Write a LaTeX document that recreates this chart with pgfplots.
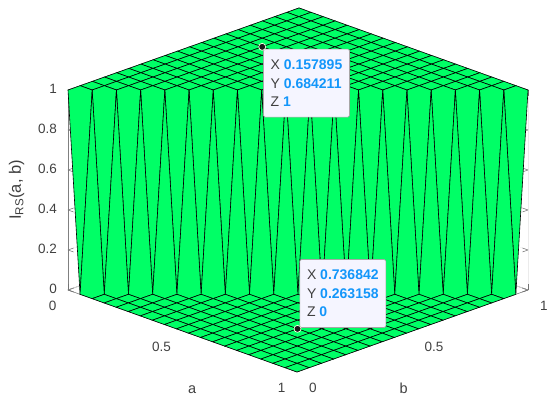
\documentclass[border=0pt]{standalone}
\usepackage{fontspec}
\setmainfont{Liberation Sans}
\usepackage{pgfplots}
\pgfplotsset{compat=1.18}
\definecolor{txt}{HTML}{404040}
\definecolor{tipblue}{HTML}{1296FA}
\definecolor{surfg}{RGB}{0,255,102}
\begin{document}
\begin{tikzpicture}[x=1pt,y=1pt]
\useasboundingbox (0,0) rectangle (550,403);
\begin{axis}[
  at={(68pt,113pt)}, anchor=origin,
  x={(229pt,-82pt)}, y={(231pt,82pt)}, z={(0pt,200pt)},
  xmin=0,xmax=1,ymin=0,ymax=1,zmin=0,zmax=1,
  clip=false,
  3d box=background,
  /pgf/number format/assume math mode=true,
  xtick={0,0.5,1}, ytick={0,0.5,1}, ztick={0,0.2,0.4,0.6,0.8,1},
  grid=major,
  grid style={line width=0.4pt,draw=black!8},
  axis line style={line width=0.6pt,draw=black!50},
  tick style={line width=0.5pt,draw=black!55},
  major tick length=6pt,
  tick label style={font=\fontsize{13.5}{15}\selectfont,text=txt},
  label style={font=\fontsize{14.5}{16}\selectfont,text=txt},
  xticklabel style={anchor=north east,xshift=-8pt,yshift=-7.5pt},
  yticklabel style={anchor=north west,xshift=8.5pt,yshift=-7.5pt},
  zticklabel style={xshift=-7.5pt,yshift=1.5pt},
  colormap={solidg}{color=(surfg) color=(surfg)},
  xlabel={a}, ylabel={b}, zlabel={I\textsubscript{RS}(a, b)},
  xlabel style={xshift=38pt,yshift=-19pt},
  ylabel style={xshift=-38pt,yshift=-16pt},
  zlabel style={font=\fontsize{16.5}{18}\selectfont,yshift=7pt},
]
\addplot3[surf,shader=faceted,faceted color=black,line width=0.6pt,mesh/rows=20,mesh/ordering=x varies] coordinates {
(0,0,1) (.0526,0,0) (.1053,0,0) (.1579,0,0) (.2105,0,0) (.2632,0,0) (.3158,0,0) (.3684,0,0) (.4211,0,0) (.4737,0,0) (.5263,0,0) (.5789,0,0) (.6316,0,0) (.6842,0,0) (.7368,0,0) (.7895,0,0) (.8421,0,0) (.8947,0,0) (.9474,0,0) (1,0,0)
(0,.0526,1) (.0526,.0526,1) (.1053,.0526,0) (.1579,.0526,0) (.2105,.0526,0) (.2632,.0526,0) (.3158,.0526,0) (.3684,.0526,0) (.4211,.0526,0) (.4737,.0526,0) (.5263,.0526,0) (.5789,.0526,0) (.6316,.0526,0) (.6842,.0526,0) (.7368,.0526,0) (.7895,.0526,0) (.8421,.0526,0) (.8947,.0526,0) (.9474,.0526,0) (1,.0526,0)
(0,.1053,1) (.0526,.1053,1) (.1053,.1053,1) (.1579,.1053,0) (.2105,.1053,0) (.2632,.1053,0) (.3158,.1053,0) (.3684,.1053,0) (.4211,.1053,0) (.4737,.1053,0) (.5263,.1053,0) (.5789,.1053,0) (.6316,.1053,0) (.6842,.1053,0) (.7368,.1053,0) (.7895,.1053,0) (.8421,.1053,0) (.8947,.1053,0) (.9474,.1053,0) (1,.1053,0)
(0,.1579,1) (.0526,.1579,1) (.1053,.1579,1) (.1579,.1579,1) (.2105,.1579,0) (.2632,.1579,0) (.3158,.1579,0) (.3684,.1579,0) (.4211,.1579,0) (.4737,.1579,0) (.5263,.1579,0) (.5789,.1579,0) (.6316,.1579,0) (.6842,.1579,0) (.7368,.1579,0) (.7895,.1579,0) (.8421,.1579,0) (.8947,.1579,0) (.9474,.1579,0) (1,.1579,0)
(0,.2105,1) (.0526,.2105,1) (.1053,.2105,1) (.1579,.2105,1) (.2105,.2105,1) (.2632,.2105,0) (.3158,.2105,0) (.3684,.2105,0) (.4211,.2105,0) (.4737,.2105,0) (.5263,.2105,0) (.5789,.2105,0) (.6316,.2105,0) (.6842,.2105,0) (.7368,.2105,0) (.7895,.2105,0) (.8421,.2105,0) (.8947,.2105,0) (.9474,.2105,0) (1,.2105,0)
(0,.2632,1) (.0526,.2632,1) (.1053,.2632,1) (.1579,.2632,1) (.2105,.2632,1) (.2632,.2632,1) (.3158,.2632,0) (.3684,.2632,0) (.4211,.2632,0) (.4737,.2632,0) (.5263,.2632,0) (.5789,.2632,0) (.6316,.2632,0) (.6842,.2632,0) (.7368,.2632,0) (.7895,.2632,0) (.8421,.2632,0) (.8947,.2632,0) (.9474,.2632,0) (1,.2632,0)
(0,.3158,1) (.0526,.3158,1) (.1053,.3158,1) (.1579,.3158,1) (.2105,.3158,1) (.2632,.3158,1) (.3158,.3158,1) (.3684,.3158,0) (.4211,.3158,0) (.4737,.3158,0) (.5263,.3158,0) (.5789,.3158,0) (.6316,.3158,0) (.6842,.3158,0) (.7368,.3158,0) (.7895,.3158,0) (.8421,.3158,0) (.8947,.3158,0) (.9474,.3158,0) (1,.3158,0)
(0,.3684,1) (.0526,.3684,1) (.1053,.3684,1) (.1579,.3684,1) (.2105,.3684,1) (.2632,.3684,1) (.3158,.3684,1) (.3684,.3684,1) (.4211,.3684,0) (.4737,.3684,0) (.5263,.3684,0) (.5789,.3684,0) (.6316,.3684,0) (.6842,.3684,0) (.7368,.3684,0) (.7895,.3684,0) (.8421,.3684,0) (.8947,.3684,0) (.9474,.3684,0) (1,.3684,0)
(0,.4211,1) (.0526,.4211,1) (.1053,.4211,1) (.1579,.4211,1) (.2105,.4211,1) (.2632,.4211,1) (.3158,.4211,1) (.3684,.4211,1) (.4211,.4211,1) (.4737,.4211,0) (.5263,.4211,0) (.5789,.4211,0) (.6316,.4211,0) (.6842,.4211,0) (.7368,.4211,0) (.7895,.4211,0) (.8421,.4211,0) (.8947,.4211,0) (.9474,.4211,0) (1,.4211,0)
(0,.4737,1) (.0526,.4737,1) (.1053,.4737,1) (.1579,.4737,1) (.2105,.4737,1) (.2632,.4737,1) (.3158,.4737,1) (.3684,.4737,1) (.4211,.4737,1) (.4737,.4737,1) (.5263,.4737,0) (.5789,.4737,0) (.6316,.4737,0) (.6842,.4737,0) (.7368,.4737,0) (.7895,.4737,0) (.8421,.4737,0) (.8947,.4737,0) (.9474,.4737,0) (1,.4737,0)
(0,.5263,1) (.0526,.5263,1) (.1053,.5263,1) (.1579,.5263,1) (.2105,.5263,1) (.2632,.5263,1) (.3158,.5263,1) (.3684,.5263,1) (.4211,.5263,1) (.4737,.5263,1) (.5263,.5263,1) (.5789,.5263,0) (.6316,.5263,0) (.6842,.5263,0) (.7368,.5263,0) (.7895,.5263,0) (.8421,.5263,0) (.8947,.5263,0) (.9474,.5263,0) (1,.5263,0)
(0,.5789,1) (.0526,.5789,1) (.1053,.5789,1) (.1579,.5789,1) (.2105,.5789,1) (.2632,.5789,1) (.3158,.5789,1) (.3684,.5789,1) (.4211,.5789,1) (.4737,.5789,1) (.5263,.5789,1) (.5789,.5789,1) (.6316,.5789,0) (.6842,.5789,0) (.7368,.5789,0) (.7895,.5789,0) (.8421,.5789,0) (.8947,.5789,0) (.9474,.5789,0) (1,.5789,0)
(0,.6316,1) (.0526,.6316,1) (.1053,.6316,1) (.1579,.6316,1) (.2105,.6316,1) (.2632,.6316,1) (.3158,.6316,1) (.3684,.6316,1) (.4211,.6316,1) (.4737,.6316,1) (.5263,.6316,1) (.5789,.6316,1) (.6316,.6316,1) (.6842,.6316,0) (.7368,.6316,0) (.7895,.6316,0) (.8421,.6316,0) (.8947,.6316,0) (.9474,.6316,0) (1,.6316,0)
(0,.6842,1) (.0526,.6842,1) (.1053,.6842,1) (.1579,.6842,1) (.2105,.6842,1) (.2632,.6842,1) (.3158,.6842,1) (.3684,.6842,1) (.4211,.6842,1) (.4737,.6842,1) (.5263,.6842,1) (.5789,.6842,1) (.6316,.6842,1) (.6842,.6842,1) (.7368,.6842,0) (.7895,.6842,0) (.8421,.6842,0) (.8947,.6842,0) (.9474,.6842,0) (1,.6842,0)
(0,.7368,1) (.0526,.7368,1) (.1053,.7368,1) (.1579,.7368,1) (.2105,.7368,1) (.2632,.7368,1) (.3158,.7368,1) (.3684,.7368,1) (.4211,.7368,1) (.4737,.7368,1) (.5263,.7368,1) (.5789,.7368,1) (.6316,.7368,1) (.6842,.7368,1) (.7368,.7368,1) (.7895,.7368,0) (.8421,.7368,0) (.8947,.7368,0) (.9474,.7368,0) (1,.7368,0)
(0,.7895,1) (.0526,.7895,1) (.1053,.7895,1) (.1579,.7895,1) (.2105,.7895,1) (.2632,.7895,1) (.3158,.7895,1) (.3684,.7895,1) (.4211,.7895,1) (.4737,.7895,1) (.5263,.7895,1) (.5789,.7895,1) (.6316,.7895,1) (.6842,.7895,1) (.7368,.7895,1) (.7895,.7895,1) (.8421,.7895,0) (.8947,.7895,0) (.9474,.7895,0) (1,.7895,0)
(0,.8421,1) (.0526,.8421,1) (.1053,.8421,1) (.1579,.8421,1) (.2105,.8421,1) (.2632,.8421,1) (.3158,.8421,1) (.3684,.8421,1) (.4211,.8421,1) (.4737,.8421,1) (.5263,.8421,1) (.5789,.8421,1) (.6316,.8421,1) (.6842,.8421,1) (.7368,.8421,1) (.7895,.8421,1) (.8421,.8421,1) (.8947,.8421,0) (.9474,.8421,0) (1,.8421,0)
(0,.8947,1) (.0526,.8947,1) (.1053,.8947,1) (.1579,.8947,1) (.2105,.8947,1) (.2632,.8947,1) (.3158,.8947,1) (.3684,.8947,1) (.4211,.8947,1) (.4737,.8947,1) (.5263,.8947,1) (.5789,.8947,1) (.6316,.8947,1) (.6842,.8947,1) (.7368,.8947,1) (.7895,.8947,1) (.8421,.8947,1) (.8947,.8947,1) (.9474,.8947,0) (1,.8947,0)
(0,.9474,1) (.0526,.9474,1) (.1053,.9474,1) (.1579,.9474,1) (.2105,.9474,1) (.2632,.9474,1) (.3158,.9474,1) (.3684,.9474,1) (.4211,.9474,1) (.4737,.9474,1) (.5263,.9474,1) (.5789,.9474,1) (.6316,.9474,1) (.6842,.9474,1) (.7368,.9474,1) (.7895,.9474,1) (.8421,.9474,1) (.8947,.9474,1) (.9474,.9474,1) (1,.9474,0)
(0,1,1) (.0526,1,1) (.1053,1,1) (.1579,1,1) (.2105,1,1) (.2632,1,1) (.3158,1,1) (.3684,1,1) (.4211,1,1) (.4737,1,1) (.5263,1,1) (.5789,1,1) (.6316,1,1) (.6842,1,1) (.7368,1,1) (.7895,1,1) (.8421,1,1) (.8947,1,1) (.9474,1,1) (1,1,1)
};
\addplot3[only marks,mark=*,mark size=3.5pt,mark options={fill=black!90,draw=white!90!yellow,line width=0.7pt}] coordinates {(0.157895,0.684211,1) (0.736842,0.263158,0)};
\node[draw=black!35,fill=white!96!blue,rounded corners=1.5pt,line width=0.6pt,anchor=north west,minimum width=86pt,minimum height=68pt,inner xsep=7pt,inner ysep=0pt,align=left,text=txt,font=\fontsize{14}{18.5}\selectfont] at ([xshift=1pt,yshift=-2pt]axis cs:0.157895,0.684211,1) {X \textcolor{tipblue}{\textbf{0.157895}}\\Y \textcolor{tipblue}{\textbf{0.684211}}\\Z \textcolor{tipblue}{\textbf{1}}};
\node[draw=black!35,fill=white!96!blue,rounded corners=1.5pt,line width=0.6pt,anchor=south west,minimum width=86pt,minimum height=68pt,inner xsep=7pt,inner ysep=0pt,align=left,text=txt,font=\fontsize{14}{18.5}\selectfont] at ([xshift=2pt,yshift=1pt]axis cs:0.736842,0.263158,0) {X \textcolor{tipblue}{\textbf{0.736842}}\\Y \textcolor{tipblue}{\textbf{0.263158}}\\Z \textcolor{tipblue}{\textbf{0}}};
\end{axis}
\end{tikzpicture}
\end{document}
